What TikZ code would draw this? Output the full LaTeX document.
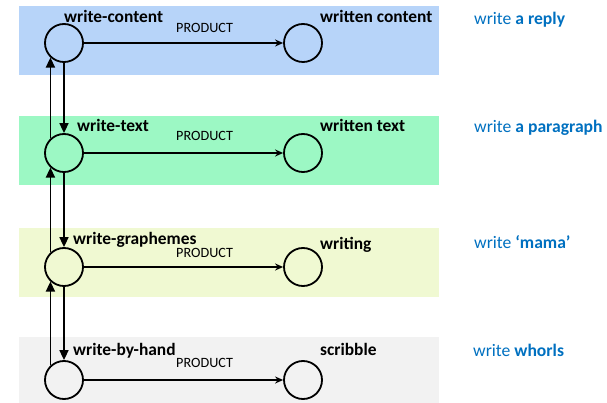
\documentclass[tikz,border=0pt]{standalone}
\usepackage{fontspec}
\setmainfont{Carlito}
\usetikzlibrary{arrows.meta}
\definecolor{bandA}{HTML}{B7D4F9}
\definecolor{bandB}{HTML}{9CF8C4}
\definecolor{bandC}{HTML}{F0F9D2}
\definecolor{bandD}{HTML}{F2F2F2}
\definecolor{noteblue}{HTML}{0070C0}
\tikzset{
  band/.style={fill=#1, draw=none},
  state/.style={circle, draw=black, line width=1.8pt, minimum size=38pt, inner sep=0pt},
  verb/.style={anchor=base west, inner sep=0pt, font=\fontsize{17.4}{19}\selectfont\bfseries},
  rel/.style={anchor=base west, inner sep=0pt, font=\fontsize{14.2}{16}\selectfont},
  note/.style={anchor=base west, inner sep=0pt, text=noteblue, font=\fontsize{17.6}{19}\selectfont},
  product/.style={-{Stealth[length=8pt,width=7pt]}, line width=1.6pt},
  level/.style={-{Triangle[length=10pt,width=9pt]}, line width=1.7pt}
}
\begin{document}
\begin{tikzpicture}[x=1pt,y=-1pt]
\useasboundingbox (0,0) rectangle (607,403);
% coloured bands
\fill[band=bandA] (19,6) rectangle (439,75);
\fill[band=bandB] (19,116) rectangle (439,185);
\fill[band=bandC] (19,228) rectangle (439,297);
\fill[band=bandD] (19,337) rectangle (439,403);

% activity and result circles
\node[state] (c1) at (64,43) {};
\node[state] (c2) at (64,153) {};
\node[state] (c3) at (64,267) {};
\node[state] (c4) at (64,380) {};
\node[state] (r1) at (303,43) {};
\node[state] (r2) at (303,153) {};
\node[state] (r3) at (303,267) {};
\node[state] (r4) at (303,380) {};

% product relations
\draw[product] (c1) -- (r1);
\draw[product] (c2) -- (r2);
\draw[product] (c3) -- (r3);
\draw[product] (c4) -- (r4);

% downward decomposition
\draw[level] (c1.south) -- (c2.north);
\draw[level] (c2.south) -- (c3.north);
\draw[level] (c3.south) -- (c4.north);

% upward composition, offset to the left
\draw[level] (c2.133) -- (c1.227);
\draw[level] (c3.133) -- (c2.227);
\draw[level] (c4.133) -- (c3.227);

% activity labels
\node[verb] (l1) at (64,23) {write-content};
\node[verb] (l2) at (77,132) {write-text};
\node[verb] (l3) at (73,244) {write-graphemes};
\node[verb] (l4) at (73,355) {write-by-hand};

% relation labels
\node[rel] (p1) at (176,33) {PRODUCT};
\node[rel] (p2) at (176,141) {PRODUCT};
\node[rel] (p3) at (176,257) {PRODUCT};
\node[rel] (p4) at (176,367) {PRODUCT};

% result labels
\node[verb] (o1) at (320,23) {written content};
\node[verb] (o2) at (320,132) {written text};
\node[verb] (o3) at (320,249) {writing};
\node[verb] (o4) at (320,355) {scribble};

% examples
\node[note] (e1) at (474,25) {write \textbf{a reply}};
\node[note] (e2) at (474,133) {write \textbf{a paragraph}};
\node[note] (e3) at (474,248) {write \textbf{‘mama’}};
\node[note] (e4) at (473,356) {write \textbf{whorls}};
\end{tikzpicture}
\end{document}
